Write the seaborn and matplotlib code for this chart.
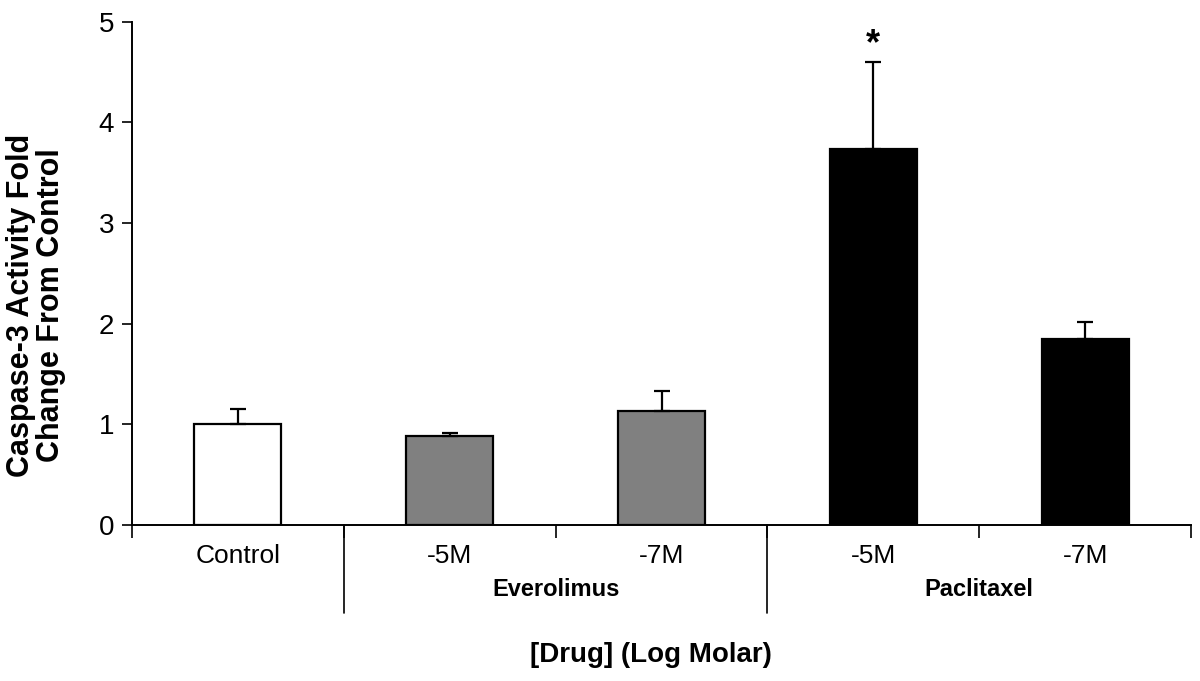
import numpy as np
import pandas as pd
import matplotlib
matplotlib.use('Agg')
import matplotlib.pyplot as plt
import matplotlib.transforms as mtransforms
import seaborn as sns

# data
conditions = ['Control', 'Eve -5M', 'Eve -7M', 'Pac -5M', 'Pac -7M']
tick_labels = ['Control', '-5M', '-7M', '-5M', '-7M']
means = [1.00, 0.88, 1.13, 3.74, 1.85]
sem_upper = [0.15, 0.03, 0.20, 0.86, 0.17]
bar_colors = ['white', '#808080', '#808080', 'black', 'black']
groups = ['Everolimus', 'Paclitaxel']
group_centers = [1.5, 3.5]

sns.set_style('ticks', {'text.color': 'black', 'axes.labelcolor': 'black',
                        'xtick.color': 'black', 'ytick.color': 'black',
                        'axes.edgecolor': 'black'})
plt.rcParams['font.family'] = ['Liberation Sans', 'DejaVu Sans']

df = pd.DataFrame({'cond': conditions, 'mean': means})

fig = plt.figure(figsize=(12, 6.81), dpi=100)
ax = fig.add_axes([0.11, 0.229, 0.8825, 0.739])

sns.barplot(data=df, x='cond', y='mean', hue='cond', palette=bar_colors,
            legend=False, edgecolor='black', linewidth=1.6, width=0.41,
            saturation=1, ax=ax)

x = np.arange(len(conditions))
ax.errorbar(x, means, yerr=[np.zeros(len(means)), sem_upper], fmt='none',
            ecolor='black', elinewidth=1.6, capsize=6, capthick=1.6, zorder=3)

# significance star
ax.text(3, means[3] + sem_upper[3], '*', ha='center', va='bottom',
        fontsize=26, fontweight='bold')

ax.set_xlim(-0.5, 4.5)
ax.set_ylim(0, 5)
ax.set_yticks(range(6))
ax.tick_params(axis='y', labelsize=20, length=7, width=1.2, direction='out', pad=6)

ax.set_xticks(x)
ax.set_xticklabels(tick_labels)
ax.tick_params(axis='x', which='major', length=0, labelsize=19, pad=14)
ax.set_xticks(np.arange(-0.5, 5, 1), minor=True)
ax.tick_params(axis='x', which='minor', length=9, width=1.2, direction='out')

for side in ['top', 'right']:
    ax.spines[side].set_visible(False)
for side in ['left', 'bottom']:
    ax.spines[side].set_linewidth(1.4)

# long group separators under the axis
trans = mtransforms.blended_transform_factory(ax.transData, ax.transAxes)
for sx in [0.5, 2.5]:
    ax.plot([sx, sx], [0, -0.175], color='black', lw=1.2, transform=trans,
            clip_on=False)

for g, c in zip(groups, group_centers):
    ax.text(c, -0.129, g, transform=trans, ha='center', va='center',
            fontsize=17, fontweight='bold')

ax.set_xlabel('[Drug] (Log Molar)', fontsize=20, fontweight='bold')
ax.xaxis.set_label_coords(0.49, -0.232)
ax.set_ylabel('Caspase-3 Activity Fold\nChange From Control', fontsize=22,
              fontweight='bold', linespacing=1.0)
ax.yaxis.set_label_coords(-0.062, 0.437)

fig.savefig('out.png', dpi=100)
